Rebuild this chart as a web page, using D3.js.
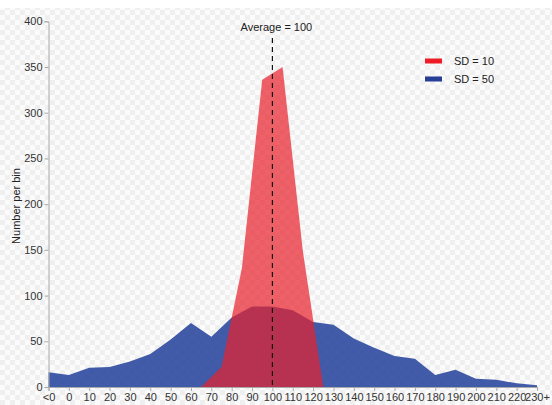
<!DOCTYPE html>
<html><head><meta charset="utf-8">
<script src="https://cdn.jsdelivr.net/npm/d3@7"></script>
<style>
html,body{margin:0;padding:0;background:#fff;}
svg{display:block;font-family:"Liberation Sans",Arial,sans-serif;}
</style></head>
<body>
<svg id="chart" width="552" height="405"></svg>
<script>
// ---- data ----
const categories = ["<0","0","10","20","30","40","50","60","70","80","90","100","110","120","130","140","150","160","170","180","190","200","210","220","230+"];
const categoryValues = [-10,0,10,20,30,40,50,60,70,80,90,100,110,120,130,140,150,160,170,180,190,200,210,220,230];
const sd50Values = [16,13,21,22,28,36,52,70,55,76,88,88,84,71,68,53,43,34,31,13,19,9,8,4,2];
const sd10Centers = [65,75,85,95,105,115,125];
const sd10Values = [0,22,130,336,350,148,0];
const yTicks = [0,50,100,150,200,250,300,350,400];
const seriesNames = ["SD = 10","SD = 50"];
const averageValue = 100;
const averageLabel = "Average = 100";
const yLabel = "Number per bin";

const svg = d3.select("#chart");
const W = 552, H = 405;

// checker background
const defs = svg.append("defs");
const pat = defs.append("pattern").attr("id","checker").attr("width",10).attr("height",10)
  .attr("patternUnits","userSpaceOnUse");
pat.append("rect").attr("width",10).attr("height",10).attr("fill","#fbfbfb");
pat.append("rect").attr("width",5).attr("height",5).attr("fill","#efefef");
pat.append("rect").attr("x",5).attr("y",5).attr("width",5).attr("height",5).attr("fill","#efefef");
svg.append("rect").attr("width",W).attr("height",H).attr("fill","#fff");
svg.append("rect").attr("y",8).attr("width",W).attr("height",H-8).attr("fill","url(#checker)");

const x = d3.scaleLinear().domain([-10,230]).range([48.5,537]);
const xCat = d3.scalePoint().domain(categories).range([48.5,537]);
const y = d3.scaleLinear().domain([0,400]).range([387,21.3]);

// blue area
const blueData = categoryValues.map((v,i)=>({x:v,y:sd50Values[i]}));
svg.append("path").datum(blueData)
  .attr("d", d3.area().x(d=>x(d.x)).y0(y(0)).y1(d=>y(d.y)))
  .attr("fill","#21409a").attr("fill-opacity",0.85);

// red area
const redData = sd10Centers.map((v,i)=>({x:v,y:sd10Values[i]}));
svg.append("path").datum(redData)
  .attr("d", d3.area().x(d=>x(d.x)).y0(y(0)).y1(d=>y(d.y)))
  .attr("fill","#ea1f2b").attr("fill-opacity",0.7);

// axes
const yAxis = svg.append("g").attr("transform","translate(48.5,0)")
  .call(d3.axisLeft(y).tickValues(yTicks).tickSize(4).tickPadding(2));
const xAxis = svg.append("g").attr("transform",`translate(0,${y(0)})`)
  .call(d3.axisBottom(xCat).tickSize(4).tickPadding(2));
[yAxis,xAxis].forEach(g=>{
  g.selectAll("path").attr("stroke","#aaa");
  g.selectAll("line").attr("stroke","#aaa");
  g.selectAll("text").attr("fill","#333").style("font-size","11px")
   .style("font-family",'"Liberation Sans",Arial,sans-serif');
});

// average line
svg.append("line").attr("x1",x(averageValue)).attr("x2",x(averageValue))
  .attr("y1",38).attr("y2",y(0))
  .attr("stroke","#111").attr("stroke-width",1.2).attr("stroke-dasharray","5,4");
svg.append("text").attr("x",x(averageValue)+4).attr("y",31)
  .attr("text-anchor","middle").attr("fill","#222").style("font-size","11px")
  .text(averageLabel);

// y label
svg.append("text").attr("transform","translate(20,206) rotate(-90)")
  .attr("text-anchor","middle").attr("fill","#222").style("font-size","11px")
  .text(yLabel);

// legend
const legColors = ["#ee1c25","#243f95"];
seriesNames.forEach((s,i)=>{
  const ly = 61 + i*18;
  svg.append("rect").attr("x",425).attr("y",ly-2.5).attr("width",17).attr("height",5)
    .attr("fill",legColors[i]);
  svg.append("text").attr("x",454).attr("y",ly+4).attr("fill","#222")
    .style("font-size","11px").text(s);
});
</script>
</body></html>
